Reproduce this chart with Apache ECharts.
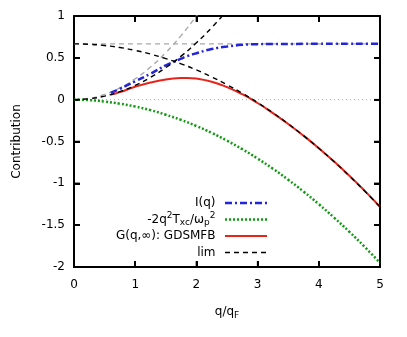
<!DOCTYPE html>
<html>
<head>
<meta charset="utf-8">
<script src="https://cdn.jsdelivr.net/npm/echarts@6/dist/echarts.min.js"></script>
<style>
  html, body { margin: 0; padding: 0; background: #fff; }
  #chart { width: 407px; height: 337px; }
</style>
</head>
<body>
<div id="chart"></div>
<script>
// q grid, 0 → 5 in steps of 0.25
const qFull = [0, 0.25, 0.5, 0.75, 1, 1.25, 1.5, 1.75, 2, 2.25, 2.5, 2.75, 3, 3.25, 3.5, 3.75, 4, 4.25, 4.5, 4.75, 5];
// curves that start near q ≈ 0.6
const qPart = [0.6, 0.75, 1, 1.25, 1.5, 1.75, 1.85, 2, 2.25, 2.5, 2.75, 3, 3.25, 3.5, 3.75, 4, 4.25, 4.5, 4.75, 5];

const iq = [0.08, 0.13, 0.22, 0.31, 0.41, 0.49, 0.52, 0.555, 0.605, 0.635, 0.655, 0.663, 0.665, 0.666, 0.667, 0.667, 0.667, 0.667, 0.667, 0.667];
const gdsmfb = [0.06, 0.09, 0.155, 0.205, 0.24, 0.258, 0.26, 0.252, 0.215, 0.15, 0.065, -0.04, -0.16, -0.29, -0.43, -0.58, -0.74, -0.91, -1.09, -1.28];
const txc = [0, -0.006, -0.022, -0.048, -0.082, -0.125, -0.18, -0.242, -0.315, -0.397, -0.49, -0.592, -0.704, -0.825, -0.957, -1.098, -1.249, -1.41, -1.58, -1.76, -1.95];

// limits
const limLarge = [0.667, 0.662, 0.647, 0.623, 0.589, 0.545, 0.491, 0.428, 0.355, 0.272, 0.179, 0.077, -0.035, -0.157, -0.289, -0.43, -0.581, -0.742, -0.913, -1.093, -1.283];
const qSmall = [0, 0.25, 0.5, 0.75, 1, 1.25, 1.5, 1.75, 2, 2.25, 2.5];
const limSmall = [0, 0.011, 0.043, 0.096, 0.17, 0.266, 0.383, 0.52, 0.68, 0.861, 1.063];
const qGray = [0, 0.25, 0.5, 0.75, 1, 1.25, 1.5, 1.75, 2, 2.1];
const grayRise = [0, 0.016, 0.063, 0.141, 0.25, 0.39, 0.563, 0.766, 1.0, 1.1];
const grayFlat = [0.667, 0.667];
const zeroLine = [0, 0];
const qEnds = [0, 5];

// inner tick marks (mirrored on all four sides)
const xTicks = [1, 2, 3, 4];
const yTicks = [-1.5, -1, -0.5, 0, 0.5];

const pairs = (xs, ys) => xs.map((x, i) => [x, ys[i]]);

const FONT = 'DejaVu Sans';
const BLUE = '#2424d8', GREEN = '#0f9a0f', RED = '#e8231a', GRAY = '#a8a8a8';
const GRID = {left: 74, right: 27, top: 16, bottom: 70};

const styles = {
  iq: {color: BLUE, width: 2.5, type: [7, 3, 2, 3]},
  txc: {color: GREEN, width: 2.5, type: [2, 2]},
  red: {color: RED, width: 2, type: 'solid'},
  lim: {color: '#000', width: 1.4, type: [5, 4]},
};

function line(name, data, st, smooth = true) {
  return {
    name, type: 'line', data,
    showSymbol: false, symbol: 'none', smooth,
    silent: true, animation: false,
    lineStyle: {color: st.color, width: st.width, type: st.type},
  };
}

const rich = {
  n: {fontFamily: FONT, fontSize: 12, color: '#000', lineHeight: 16},
  sup: {fontFamily: FONT, fontSize: 9, color: '#000', verticalAlign: 'top', lineHeight: 9},
  sub: {fontFamily: FONT, fontSize: 9, color: '#000', verticalAlign: 'bottom', lineHeight: 9},
};

const legendRows = [
  {text: '{n|I(q)}', st: styles.iq, y: 203},
  {text: '{n|-2q}{sup|2}{n|T}{sub|xc}{n|/ω}{sub|p}{sup|2}', st: styles.txc, y: 219.5},
  {text: '{n|G(q,∞): GDSMFB}', st: styles.red, y: 236},
  {text: '{n|lim}', st: styles.lim, y: 252.5},
];

const frameLine = () => ({show: true, onZero: false, lineStyle: {color: '#000', width: 2}});
const innerTick = () => ({show: true, inside: true, length: 6, lineStyle: {color: '#000', width: 2}});

const chart = echarts.init(document.getElementById('chart'));
chart.setOption({
  animation: false,
  grid: GRID,
  xAxis: [{
    type: 'value', min: 0, max: 5, interval: 1, position: 'bottom',
    axisLine: frameLine(), axisTick: innerTick(),
    axisLabel: {color: '#000', fontFamily: FONT, fontSize: 12, margin: 12},
    splitLine: {show: false},
  }, {
    type: 'value', min: 0, max: 5, interval: 1, position: 'top',
    axisLine: frameLine(), axisTick: innerTick(),
    axisLabel: {show: false},
    splitLine: {show: false},
  }],
  yAxis: [{
    type: 'value', min: -2, max: 1, interval: 0.5, position: 'left',
    axisLine: frameLine(), axisTick: innerTick(),
    axisLabel: {color: '#000', fontFamily: FONT, fontSize: 12, margin: 9},
    splitLine: {show: false},
  }, {
    type: 'value', min: -2, max: 1, interval: 0.5, position: 'right',
    axisLine: frameLine(), axisTick: innerTick(),
    axisLabel: {show: false},
    splitLine: {show: false},
  }],
  series: [
    line('zero', pairs(qEnds, zeroLine), {color: GRAY, width: 1, type: [1, 3]}, false),
    line('gray flat', pairs(qEnds, grayFlat), {color: GRAY, width: 1.4, type: [5, 4]}, false),
    line('gray rise', pairs(qGray, grayRise), {color: GRAY, width: 1.4, type: [5, 4]}),
    line('I(q)', pairs(qPart, iq), styles.iq),
    line('txc', pairs(qFull, txc), styles.txc),
    line('G(q,∞): GDSMFB', pairs(qPart, gdsmfb), styles.red),
    line('lim large', pairs(qFull, limLarge), styles.lim),
    line('lim small', pairs(qSmall, limSmall), styles.lim),
  ],
});

// pixel positions from the axes' scales; plain linear fallback if the finder fails
function toPx(x, y) {
  let p = null;
  try {
    p = chart.convertToPixel({xAxisIndex: 0, yAxisIndex: 0}, [x, y]);
  } catch (e) { p = null; }
  if (!p || !isFinite(p[0]) || !isFinite(p[1])) {
    const w = chart.getWidth() - GRID.left - GRID.right;
    const h = chart.getHeight() - GRID.top - GRID.bottom;
    p = [GRID.left + x / 5 * w, GRID.top + (1 - y) / 3 * h];
  }
  return p;
}

const graphics = [];
legendRows.forEach(r => {
  graphics.push({
    type: 'text', x: 215.5, y: r.y, silent: true,
    style: {text: r.text, rich, align: 'right', verticalAlign: 'middle'},
  });
  graphics.push({
    type: 'line', silent: true,
    shape: {x1: 225, y1: r.y, x2: 267, y2: r.y},
    style: {stroke: r.st.color, lineWidth: r.st.width, lineDash: r.st.type === 'solid' ? null : r.st.type},
  });
});
// axis titles
graphics.push({
  type: 'text', x: 227, y: 312, silent: true,
  style: {text: '{n|q/q}{sub|F}', rich, align: 'center', verticalAlign: 'middle'},
});
graphics.push({
  type: 'text', x: 17, y: 141.5, rotation: Math.PI / 2, silent: true,
  style: {text: 'Contribution', fontFamily: FONT, fontSize: 12, fill: '#000', align: 'center', verticalAlign: 'middle'},
});

// inward ticks on all four sides
const TICK = 6;
const [xLeft, yBottom] = toPx(0, -2);
const [xRight, yTop] = toPx(5, 1);
xTicks.forEach(v => {
  const px = toPx(v, 0)[0];
  graphics.push({type: 'line', silent: true, z: 50, shape: {x1: px, y1: yBottom, x2: px, y2: yBottom - TICK}, style: {stroke: '#000', lineWidth: 1.5}});
  graphics.push({type: 'line', silent: true, z: 50, shape: {x1: px, y1: yTop, x2: px, y2: yTop + TICK}, style: {stroke: '#000', lineWidth: 1.5}});
});
yTicks.forEach(v => {
  const py = toPx(0, v)[1];
  graphics.push({type: 'line', silent: true, z: 50, shape: {x1: xLeft, y1: py, x2: xLeft + TICK, y2: py}, style: {stroke: '#000', lineWidth: 1.5}});
  graphics.push({type: 'line', silent: true, z: 50, shape: {x1: xRight, y1: py, x2: xRight - TICK, y2: py}, style: {stroke: '#000', lineWidth: 1.5}});
});

chart.setOption({graphic: {elements: graphics}});
</script>
</body>
</html>
